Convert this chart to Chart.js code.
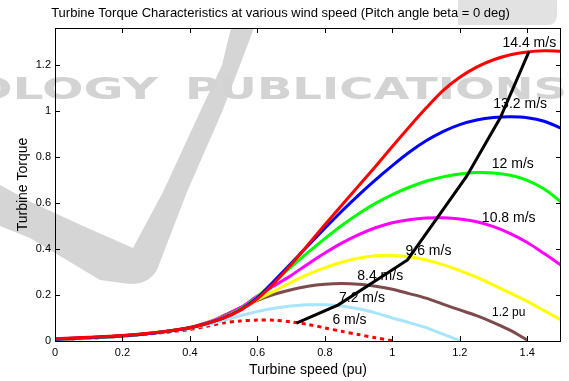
<!DOCTYPE html>
<html>
<head>
<meta charset="utf-8">
<script src="https://cdn.jsdelivr.net/npm/chart.js@4.4.1/dist/chart.umd.min.js"></script>
<style>
  html, body { margin: 0; padding: 0; background: #fff; }
</style>
</head>
<body>
<canvas id="torqueChart" width="569" height="381"></canvas>
<script>
// turbine speed grid (pu) shared by all the torque curves
const speedGrid = [0, 0.1, 0.2, 0.3, 0.4, 0.45, 0.5, 0.55, 0.6, 0.65, 0.7, 0.75, 0.8, 0.85, 0.9, 0.95, 1.0, 1.05, 1.1, 1.15, 1.2, 1.25, 1.3, 1.35, 1.4, 1.45, 1.5];

// torque, one list per wind speed
const torque144 = [0.010, 0.016, 0.024, 0.037, 0.058, 0.076, 0.099, 0.134, 0.183, 0.252, 0.332, 0.418, 0.505, 0.590, 0.674, 0.758, 0.845, 0.930, 1.012, 1.088, 1.146, 1.190, 1.222, 1.244, 1.256, 1.261, 1.259];
const torque132 = [0.008, 0.015, 0.023, 0.036, 0.058, 0.076, 0.100, 0.136, 0.188, 0.262, 0.338, 0.414, 0.490, 0.564, 0.634, 0.700, 0.762, 0.820, 0.870, 0.910, 0.940, 0.960, 0.971, 0.974, 0.970, 0.955, 0.925];
const torque12  = [0.007, 0.014, 0.022, 0.036, 0.058, 0.077, 0.102, 0.140, 0.193, 0.258, 0.322, 0.385, 0.445, 0.502, 0.553, 0.598, 0.636, 0.668, 0.694, 0.713, 0.726, 0.732, 0.730, 0.720, 0.698, 0.660, 0.605];
const torque108 = [0.006, 0.014, 0.022, 0.036, 0.059, 0.080, 0.106, 0.145, 0.195, 0.240, 0.285, 0.335, 0.382, 0.425, 0.462, 0.492, 0.514, 0.527, 0.534, 0.535, 0.530, 0.518, 0.497, 0.467, 0.428, 0.380, 0.330];
const torque96  = [0.006, 0.014, 0.023, 0.037, 0.060, 0.081, 0.106, 0.142, 0.180, 0.217, 0.255, 0.290, 0.318, 0.342, 0.360, 0.370, 0.372, 0.366, 0.352, 0.332, 0.306, 0.277, 0.243, 0.208, 0.172, 0.132, 0.092];
const torque84  = [0.006, 0.014, 0.023, 0.037, 0.058, 0.078, 0.110, 0.145, 0.177, 0.203, 0.223, 0.238, 0.247, 0.250, 0.247, 0.238, 0.225, 0.206, 0.186, 0.160, 0.135, 0.110, 0.080, 0.046, 0.004];
const torque72  = [0.005, 0.013, 0.022, 0.036, 0.055, 0.070, 0.090, 0.110, 0.128, 0.142, 0.152, 0.157, 0.157, 0.152, 0.140, 0.122, 0.100, 0.080, 0.058, 0.030, 0.002];
const torque6   = [0.005, 0.012, 0.021, 0.034, 0.050, 0.064, 0.079, 0.087, 0.091, 0.090, 0.083, 0.072, 0.057, 0.042, 0.028, 0.014, 0.001];

// black line through the optimum points
const optSpeed  = [0.716, 0.840, 1.045, 1.220, 1.320, 1.405];
const optTorque = [0.078, 0.157, 0.352, 0.715, 0.970, 1.257];

// curve labels
const labelText   = ['14.4 m/s', '13.2 m/s', '12 m/s', '10.8 m/s', '9.6 m/s', '8.4 m/s', '7.2 m/s', '6 m/s', '1.2 pu'];
const labelSpeed  = [1.406, 1.379, 1.357, 1.345, 1.107, 0.964, 0.910, 0.873, 1.345];
const labelTorque = [1.296, 1.030, 0.770, 0.535, 0.391, 0.283, 0.187, 0.091, 0.122];

const xTicks = [0, 0.2, 0.4, 0.6, 0.8, 1, 1.2, 1.4];
const yTicks = [0, 0.2, 0.4, 0.6, 0.8, 1, 1.2];

const FONT = "'Liberation Sans', Arial, sans-serif";

function pts(xs, ys) {
  return ys.map((y, i) => ({ x: xs[i], y: y }));
}

function curve(vals, color, dash) {
  return {
    data: pts(speedGrid, vals),
    borderColor: color,
    borderWidth: 3,
    borderDash: dash || [],
    pointRadius: 0,
    tension: 0.3,
    fill: false
  };
}

function stretchText(ctx, txt, left, right, baseline) {
  const w = ctx.measureText(txt).width;
  ctx.save();
  ctx.translate(left, baseline);
  ctx.scale((right - left) / w, 1);
  ctx.fillText(txt, 0, 0);
  ctx.restore();
}

// faint grey watermark behind the plot
const watermark = {
  id: 'watermark',
  beforeDraw(chart) {
    const ctx = chart.ctx;
    ctx.save();
    ctx.fillStyle = '#fff';
    ctx.fillRect(0, 0, chart.width, chart.height);

    ctx.fillStyle = '#d5d5d5';
    ctx.beginPath();
    ctx.moveTo(0, 185);
    ctx.lineTo(33, 203);
    ctx.lineTo(83, 226);
    ctx.lineTo(133, 248);
    ctx.lineTo(163, 192);
    ctx.lineTo(200, 112);
    ctx.lineTo(222, 65);
    ctx.lineTo(231, 28);
    ctx.lineTo(254, 28);
    ctx.lineTo(240, 65);
    ctx.lineTo(222, 112);
    ctx.lineTo(187, 192);
    ctx.lineTo(160, 262);
    ctx.quadraticCurveTo(154, 284, 130, 284);
    ctx.lineTo(100, 280);
    ctx.lineTo(60, 256);
    ctx.lineTo(30, 238);
    ctx.lineTo(0, 226);
    ctx.closePath();
    ctx.fill();

    ctx.fillStyle = '#e2e2e2';
    ctx.beginPath();
    ctx.moveTo(458, 0);
    ctx.lineTo(557, 0);
    ctx.lineTo(557, 15);
    ctx.quadraticCurveTo(557, 25, 547, 25);
    ctx.lineTo(458, 25);
    ctx.closePath();
    ctx.fill();

    ctx.fillStyle = '#d3d3d3';
    ctx.font = "bold 30px 'DejaVu Sans', sans-serif";
    ctx.textBaseline = 'alphabetic';
    stretchText(ctx, 'OLOGY', -29, 158, 99);
    stretchText(ctx, 'PUBLICATIONS', 185, 567, 99);
    ctx.restore();
  }
};

// MATLAB style box with inward ticks, plus the curve labels
const frameAndLabels = {
  id: 'frameAndLabels',
  afterDatasetsDraw(chart) {
    const ctx = chart.ctx;
    const a = chart.chartArea;
    const xs = chart.scales.x, ys = chart.scales.y;
    ctx.save();
    ctx.strokeStyle = '#000';
    ctx.lineWidth = 1;
    ctx.strokeRect(Math.round(a.left) + 0.5, Math.round(a.top) + 0.5,
                   Math.round(a.right - a.left) - 1, Math.round(a.bottom - a.top));
    ctx.beginPath();
    xTicks.forEach(v => {
      if (v === 0) return;
      const px = Math.round(xs.getPixelForValue(v)) + 0.5;
      ctx.moveTo(px, a.bottom); ctx.lineTo(px, a.bottom - 5);
      ctx.moveTo(px, a.top); ctx.lineTo(px, a.top + 5);
    });
    yTicks.forEach(v => {
      if (v === 0) return;
      const py = Math.round(ys.getPixelForValue(v)) + 0.5;
      ctx.moveTo(a.left, py); ctx.lineTo(a.left + 5, py);
      ctx.moveTo(a.right, py); ctx.lineTo(a.right - 5, py);
    });
    ctx.stroke();

    ctx.fillStyle = '#000';
    ctx.textAlign = 'center';
    ctx.textBaseline = 'middle';
    labelText.forEach((t, i) => {
      ctx.font = (t === '1.2 pu' ? '12px ' : '14px ') + FONT;
      ctx.fillText(t, xs.getPixelForValue(labelSpeed[i]), ys.getPixelForValue(labelTorque[i]));
    });
    ctx.restore();
  }
};

new Chart(document.getElementById('torqueChart'), {
  type: 'line',
  data: {
    datasets: [
      {
        data: pts(optSpeed, optTorque),
        borderColor: '#000',
        borderWidth: 3,
        pointRadius: 0,
        tension: 0,
        fill: false
      },
      curve(torque144, '#ff0000'),
      curve(torque132, '#0000ff'),
      curve(torque12, '#00ff00'),
      curve(torque108, '#ff00ff'),
      curve(torque96, '#ffff00'),
      curve(torque84, '#7d4b4b'),
      curve(torque72, '#a8e4fa'),
      curve(torque6, '#ff0000', [4, 4])
    ]
  },
  options: {
    responsive: false,
    animation: false,
    layout: { padding: { top: 0, right: 8, left: 0, bottom: 0 } },
    plugins: {
      legend: { display: false },
      tooltip: { enabled: false },
      title: {
        display: true,
        text: 'Turbine Torque Characteristics at various wind speed (Pitch angle beta = 0 deg)',
        color: '#000',
        font: { family: FONT, size: 13, weight: 'normal' },
        padding: { top: 6, bottom: 6.4 }
      }
    },
    scales: {
      x: {
        type: 'linear',
        min: 0,
        max: 1.5,
        afterFit(s) { s.height = 40; },
        afterBuildTicks(s) { s.ticks = xTicks.map(v => ({ value: v })); },
        grid: { display: false, drawTicks: false },
        border: { display: false },
        ticks: {
          color: '#000',
          padding: 5,
          maxRotation: 0,
          font: { family: FONT, size: 11 },
          callback: v => String(Math.round(v * 10) / 10)
        },
        title: {
          display: true,
          text: 'Turbine speed (pu)',
          color: '#000',
          font: { family: FONT, size: 14 },
          padding: { top: 0, bottom: 2 }
        }
      },
      y: {
        min: 0,
        max: 1.36,
        afterFit(s) { s.width = 55; },
        afterBuildTicks(s) { s.ticks = yTicks.map(v => ({ value: v })); },
        grid: { display: false, drawTicks: false },
        border: { display: false },
        ticks: {
          color: '#000',
          padding: 4,
          font: { family: FONT, size: 11 },
          callback: v => String(Math.round(v * 10) / 10)
        },
        title: {
          display: true,
          text: 'Turbine Torque',
          color: '#000',
          font: { family: FONT, size: 14 },
          padding: { top: 15, bottom: 0 }
        }
      }
    }
  },
  plugins: [watermark, frameAndLabels]
});
</script>
</body>
</html>
